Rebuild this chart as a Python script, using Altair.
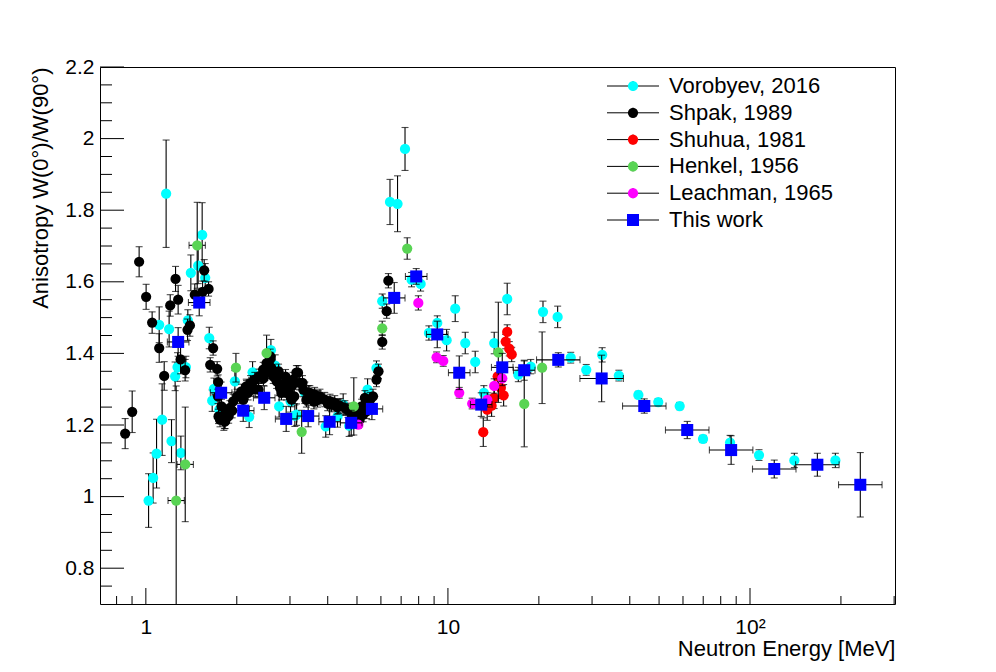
import altair as alt
import pandas as pd

# ---------------- data ----------------
vor_E = [1.021, 1.057, 1.085, 1.107, 1.132, 1.167, 1.194, 1.216, 1.250, 1.273, 1.306, 1.357, 1.377,
         1.409, 1.490, 1.536, 1.572, 1.621, 1.658, 1.680, 1.750, 1.812, 1.971, 2.198, 2.256, 2.594,
         2.680, 2.762, 3.013, 3.114, 3.155, 3.36, 3.94, 4.31, 4.50, 4.71, 5.42, 5.80, 6.06, 6.43,
         6.81, 7.21, 7.58, 8.12, 8.65, 9.22, 9.90, 10.57, 11.41, 12.31, 13.15, 14.23, 15.71, 17.1,
         18.8, 20.64, 23.08, 25.5, 28.7, 32.4, 36.8, 42.7, 49.7, 58.5, 69.9, 85.9, 107.1, 140.2, 191.7]
vor_A = [0.989, 1.052, 1.120, 1.480, 1.215, 1.846, 1.468, 1.155, 1.336, 1.362, 1.122, 1.362, 1.492,
         1.625, 1.645, 1.731, 1.611, 1.443, 1.268, 1.301, 1.243, 1.215, 1.322, 1.223, 1.347, 1.409,
         1.366, 1.252, 1.266, 1.226, 1.229, 1.290, 1.196, 1.224, 1.257, 1.198, 1.299, 1.359, 1.546, 1.823,
         1.818, 1.971, 1.606, 1.594, 1.457, 1.485, 1.437, 1.525, 1.429, 1.376, 1.290, 1.429, 1.552, 1.341,
         1.363, 1.516, 1.502, 1.388, 1.354, 1.396, 1.338, 1.284, 1.264, 1.253, 1.161, 1.151, 1.116, 1.101, 1.101]
vor_err = [0.075, 0.07, 0.096, 0.05, 0.10, 0.15, 0.05, 0.06, 0.04, 0.04, 0.047, 0.03, 0.03,
           0.05, 0.05, 0.09, 0.04, 0.03, 0.03, 0.03, 0.03, 0.03, 0.03, 0.03, 0.03, 0.03,
           0.03, 0.03, 0.03, 0.03, 0.03, 0.03, 0.03, 0.03, 0.03, 0.03, 0.03, 0.02, 0.02, 0.063,
           0.078, 0.06, 0.02, 0.02, 0.02, 0.02, 0.03, 0.036, 0.03, 0.03, 0.02, 0.03, 0.044, 0.02,
           0.02, 0.03, 0.03, 0.015, 0.015, 0.02, 0.015, 0.01, 0.01, 0.01, 0.01, 0.02, 0.015, 0.02, 0.02]

shp_E = [0.854, 0.901, 0.950, 1.002, 1.049, 1.107, 1.150, 1.204, 1.254, 1.279, 1.303, 1.349, 1.374,
         1.399, 1.452, 1.541, 1.560, 1.613, 1.633, 1.670, 1.722, 1.736, 1.733, 1.76, 1.78, 1.794, 1.82,
         1.85, 1.88, 1.898, 1.93, 1.946, 2.005, 2.072, 2.10, 2.154, 2.222, 2.295, 2.30, 2.37, 2.446,
         2.45, 2.51, 2.54, 2.576, 2.60, 2.64, 2.71, 2.75, 2.79, 2.88, 2.90, 2.98, 3.00, 3.07, 3.10,
         3.19, 3.23, 3.30, 3.32, 3.40, 3.49, 3.60, 3.62, 3.70, 3.77, 3.91, 4.00, 4.07, 4.22, 4.30,
         4.39, 4.56, 4.67, 4.80, 4.85, 5.05, 5.10, 5.24, 5.38, 5.44, 5.53, 5.65, 5.80, 5.89, 6.06,
         6.27, 6.35,
         1.74, 1.83, 2.15, 2.24, 2.36, 2.41, 2.48, 2.58, 2.74, 2.78, 2.81, 2.92, 3.04, 3.15, 3.45,
         3.58, 3.72, 4.12, 4.34, 4.92, 5.18, 5.31, 2.18, 2.90, 3.05]
shp_A = [1.176, 1.237, 1.656, 1.558, 1.486, 1.415, 1.337, 1.534, 1.608, 1.550, 1.383, 1.353, 1.466,
         1.478, 1.564, 1.572, 1.632, 1.580, 1.368, 1.415, 1.357, 1.320, 1.280, 1.215, 1.252, 1.224, 1.210,
         1.234, 1.225, 1.248, 1.240, 1.266, 1.280, 1.294, 1.270, 1.304, 1.318, 1.327, 1.300, 1.336, 1.355,
         1.330, 1.373, 1.350, 1.383, 1.360, 1.336, 1.322, 1.350, 1.308, 1.299, 1.320, 1.304, 1.285, 1.327,
         1.280, 1.346, 1.318, 1.318, 1.299, 1.270, 1.290, 1.265, 1.285, 1.270, 1.280, 1.271, 1.260, 1.266,
         1.262, 1.250, 1.254, 1.248, 1.241, 1.220, 1.238, 1.232, 1.215, 1.229, 1.238, 1.257, 1.271, 1.280,
         1.327, 1.350, 1.432, 1.518, 1.603,
         1.224, 1.210, 1.308, 1.313, 1.299, 1.336, 1.346, 1.392, 1.341, 1.304, 1.290, 1.290, 1.271,
         1.346, 1.290, 1.280, 1.276, 1.257, 1.252, 1.224, 1.252, 1.276, 1.290, 1.335, 1.310]
shp_err = [0.042, 0.058, 0.042, 0.035, 0.03, 0.04, 0.04, 0.03, 0.035, 0.04, 0.04, 0.03, 0.03,
           0.03, 0.03, 0.03, 0.03, 0.02, 0.02, 0.02, 0.02, 0.02, 0.02, 0.02, 0.02, 0.02, 0.02,
           0.02, 0.02, 0.02, 0.02, 0.02, 0.02, 0.02, 0.02, 0.02, 0.02, 0.02, 0.02, 0.02, 0.02,
           0.02, 0.02, 0.02, 0.02, 0.02, 0.02, 0.02, 0.02, 0.02, 0.02, 0.02, 0.02, 0.02, 0.02,
           0.02, 0.02, 0.02, 0.02, 0.02, 0.02, 0.02, 0.02, 0.02, 0.02, 0.02, 0.02, 0.02, 0.02,
           0.02, 0.02, 0.02, 0.02, 0.02, 0.02, 0.02, 0.02, 0.02, 0.02, 0.02, 0.02, 0.02, 0.02,
           0.02, 0.02, 0.02, 0.02, 0.02,
           0.02, 0.02, 0.02, 0.02, 0.02, 0.02, 0.02, 0.02, 0.02, 0.02, 0.02, 0.02, 0.02,
           0.02, 0.02, 0.02, 0.02, 0.02, 0.02, 0.02, 0.02, 0.02, 0.02, 0.02, 0.02]

shu_E = [13.09, 13.49, 13.95, 14.22, 14.61, 14.97, 15.29, 15.53, 15.71, 15.96, 16.26]
shu_A = [1.180, 1.243, 1.254, 1.276, 1.336, 1.304, 1.283, 1.433, 1.460, 1.413, 1.397]
shu_err = [0.04, 0.03, 0.03, 0.03, 0.03, 0.03, 0.03, 0.02, 0.02, 0.02, 0.02]

hen_E = [1.26, 1.35, 1.479, 1.987, 2.51, 3.28, 4.88, 6.06, 7.33, 14.68, 17.89, 20.5]
hen_A = [0.989, 1.090, 1.702, 1.360, 1.401, 1.181, 1.252, 1.470, 1.693, 1.403, 1.259, 1.360]
hen_err = [0.32, 0.16, 0.12, 0.04, 0.05, 0.06, 0.08, 0.02, 0.03, 0.14, 0.12, 0.10]
hen_dx = [0.027, 0.027, 0.027, 0.0, 0.0, 0.0, 0.0, 0.0, 0.0, 0.0, 0.0, 0.0]

lea_E = [5.05, 7.98, 9.17, 9.65, 10.90, 12.03, 13.50, 14.23, 15.13]
lea_A = [1.201, 1.541, 1.389, 1.379, 1.290, 1.260, 1.270, 1.309, 1.330]
lea_err = [0.01, 0.02, 0.015, 0.015, 0.015, 0.015, 0.02, 0.02, 0.02]

tw_E = [1.279, 1.502, 1.775, 2.100, 2.465, 2.914, 3.446, 4.058, 4.784, 5.602, 6.641, 7.853,
        9.218, 10.90, 12.89, 15.13, 17.89, 23.19, 32.28, 44.67, 61.97, 86.6, 120.3, 167.1, 231.8]
tw_A = [1.432, 1.542, 1.290, 1.240, 1.276, 1.217, 1.225, 1.209, 1.206, 1.245, 1.555, 1.615,
        1.453, 1.346, 1.257, 1.361, 1.353, 1.382, 1.330, 1.253, 1.186, 1.130, 1.077, 1.089, 1.033]
tw_err = [0.04, 0.037, 0.03, 0.03, 0.033, 0.035, 0.03, 0.036, 0.035, 0.03, 0.043, 0.022,
          0.037, 0.047, 0.033, 0.039, 0.028, 0.02, 0.065, 0.02, 0.024, 0.04, 0.025, 0.032, 0.09]
tw_dx = [0.0357] * 17 + [0.072] * 8   # half bin width in decades

series_names = ["Vorobyev, 2016", "Shpak, 1989", "Shuhua, 1981", "Henkel, 1956", "Leachman, 1965", "This work"]
series_colors = ["#00ffff", "#000000", "#ff0000", "#59d454", "#ff00ff", "#0000ff"]
series_shapes = ["circle", "circle", "circle", "circle", "circle", "square"]

y_major = [0.8, 1.0, 1.2, 1.4, 1.6, 1.8, 2.0, 2.2]
y_minor = [0.75, 0.85, 0.9, 0.95, 1.05, 1.1, 1.15, 1.25, 1.3, 1.35, 1.45, 1.5, 1.55, 1.65, 1.7, 1.75,
           1.85, 1.9, 1.95, 2.05, 2.1, 2.15]
x_major = [1, 10, 100]
x_minor = [0.8, 0.9, 2, 3, 4, 5, 6, 7, 8, 9, 20, 30, 40, 50, 60, 70, 80, 90, 200, 300]

# ---------------- chart ----------------
W, H = 795, 537
FONT = "Liberation Sans"
CIRCLE, SQUARE = 105, 145
xscale = alt.Scale(type="log", domain=[0.705, 302], nice=False)
yscale = alt.Scale(domain=[0.7, 2.2], nice=False, zero=False)

xaxis = alt.Axis(values=x_major, labelExpr="datum.value == 100 ? '10\u00b2' : toString(datum.value)",
                 ticks=False, tickSize=0, domain=False, grid=False, labelPadding=29,
                 labelBaseline="alphabetic", labelFont=FONT, labelFontSize=21, labelColor="black",
                 title="Neutron Energy [MeV]", titleFont=FONT, titleFontSize=22, titleFontWeight="normal",
                 titleColor="black", titleAlign="right", titleAnchor="end", titleX=W, titleY=51,
                 titleBaseline="alphabetic", labelFlush=False, labelOverlap=False)
yaxis = alt.Axis(values=y_major, format="~g", ticks=False, tickSize=0, domain=False, grid=False,
                 labelPadding=6, labelFont=FONT, labelFontSize=21, labelColor="black",
                 title="Anisotropy W(0\u00b0)/W(90\u00b0)", titleFont=FONT, titleFontSize=22,
                 titleFontWeight="normal", titleColor="black", titleAngle=270, titleAlign="right",
                 titleX=-53, titleY=0, titleBaseline="alphabetic", labelFlush=False, labelOverlap=False)


def X(f):
    return alt.X(f, type="quantitative", scale=xscale, axis=xaxis)


def Y(f):
    return alt.Y(f, type="quantitative", scale=yscale, axis=yaxis)


def make_df(E, A, err, dx=None):
    df = pd.DataFrame({"E": E, "A": A, "err": err})
    df["lo"] = df["A"] - df["err"]
    df["hi"] = df["A"] + df["err"]
    if dx is None:
        dx = [0.0] * len(E)
    df["dx"] = dx
    df["xlo"] = df["E"] * 10 ** (-df["dx"])
    df["xhi"] = df["E"] * 10 ** (df["dx"])
    return df


def series_layers(df, color, shape, size):
    out = []
    out.append(alt.Chart(df).mark_rule(color="black", strokeWidth=1.1, clip=True).encode(
        x=X("E"), y=Y("lo"), y2="hi"))
    out.append(alt.Chart(df).mark_tick(color="black", orient="horizontal", size=7, thickness=1.1, clip=True).encode(
        x=X("E"), y=Y("lo")))
    out.append(alt.Chart(df).mark_tick(color="black", orient="horizontal", size=7, thickness=1.1, clip=True).encode(
        x=X("E"), y=Y("hi")))
    dxd = df[df["dx"] > 0]
    if len(dxd):
        out.append(alt.Chart(dxd).mark_rule(color="black", strokeWidth=1.1, clip=True).encode(
            x=X("xlo"), x2="xhi", y=Y("A")))
        out.append(alt.Chart(dxd).mark_tick(color="black", orient="vertical", size=7, thickness=1.1, clip=True).encode(
            x=X("xlo"), y=Y("A")))
        out.append(alt.Chart(dxd).mark_tick(color="black", orient="vertical", size=7, thickness=1.1, clip=True).encode(
            x=X("xhi"), y=Y("A")))
    out.append(alt.Chart(df).mark_point(shape=shape, filled=True, size=size, color=color, opacity=1,
                                        strokeWidth=0, clip=True).encode(x=X("E"), y=Y("A")))
    return out


dfs = [
    make_df(vor_E, vor_A, vor_err),
    make_df(shp_E, shp_A, shp_err),
    make_df(shu_E, shu_A, shu_err),
    make_df(hen_E, hen_A, hen_err, hen_dx),
    make_df(lea_E, lea_A, lea_err),
    make_df(tw_E, tw_A, tw_err, tw_dx),
]

layers = []
for df, col, shp in zip(dfs, series_colors, series_shapes):
    layers += series_layers(df, col, shp, SQUARE if shp == "square" else CIRCLE)

# inward ticks (ROOT style)
layers.append(alt.Chart(pd.DataFrame({"v": y_major})).mark_rule(color="black", strokeWidth=1).encode(
    y=Y("v"), x=alt.value(0), x2=alt.value(24)))
layers.append(alt.Chart(pd.DataFrame({"v": y_minor})).mark_rule(color="black", strokeWidth=1).encode(
    y=Y("v"), x=alt.value(0), x2=alt.value(12)))
layers.append(alt.Chart(pd.DataFrame({"v": x_major})).mark_rule(color="black", strokeWidth=1).encode(
    x=X("v"), y=alt.value(H), y2=alt.value(H - 16)))
layers.append(alt.Chart(pd.DataFrame({"v": x_minor})).mark_rule(color="black", strokeWidth=1).encode(
    x=X("v"), y=alt.value(H), y2=alt.value(H - 8)))

# legend (drawn like ROOT's TLegend)
leg_y0, leg_dy = 19, 26.8
for i, (name, col, shp) in enumerate(zip(series_names, series_colors, series_shapes)):
    yy = leg_y0 + i * leg_dy
    ldf = pd.DataFrame({"label": [name]})
    layers.append(alt.Chart(ldf).mark_rule(color="black", strokeWidth=1).encode(
        x=alt.value(507), x2=alt.value(559), y=alt.value(yy)))
    layers.append(alt.Chart(ldf).mark_rule(color="black", strokeWidth=1).encode(
        x=alt.value(533), y=alt.value(yy - 5), y2=alt.value(yy + 5)))
    layers.append(alt.Chart(ldf).mark_point(shape=shp, filled=True, size=SQUARE if shp == "square" else CIRCLE,
                                            color=col, opacity=1, strokeWidth=0).encode(
        x=alt.value(533), y=alt.value(yy)))
    layers.append(alt.Chart(ldf).mark_text(align="left", baseline="middle", font=FONT, fontSize=22,
                                           color="black").encode(
        x=alt.value(569), y=alt.value(yy), text="label:N"))

chart = alt.layer(*layers).properties(
    width=W, height=H,
    padding={"left": 92, "top": 59, "right": 90, "bottom": 60},
    autosize=alt.AutoSizeParams(type="none"),
    background="white",
).configure_view(stroke="black", strokeWidth=1)

chart.save("out.html", embed_options={"renderer": "svg", "actions": False})
